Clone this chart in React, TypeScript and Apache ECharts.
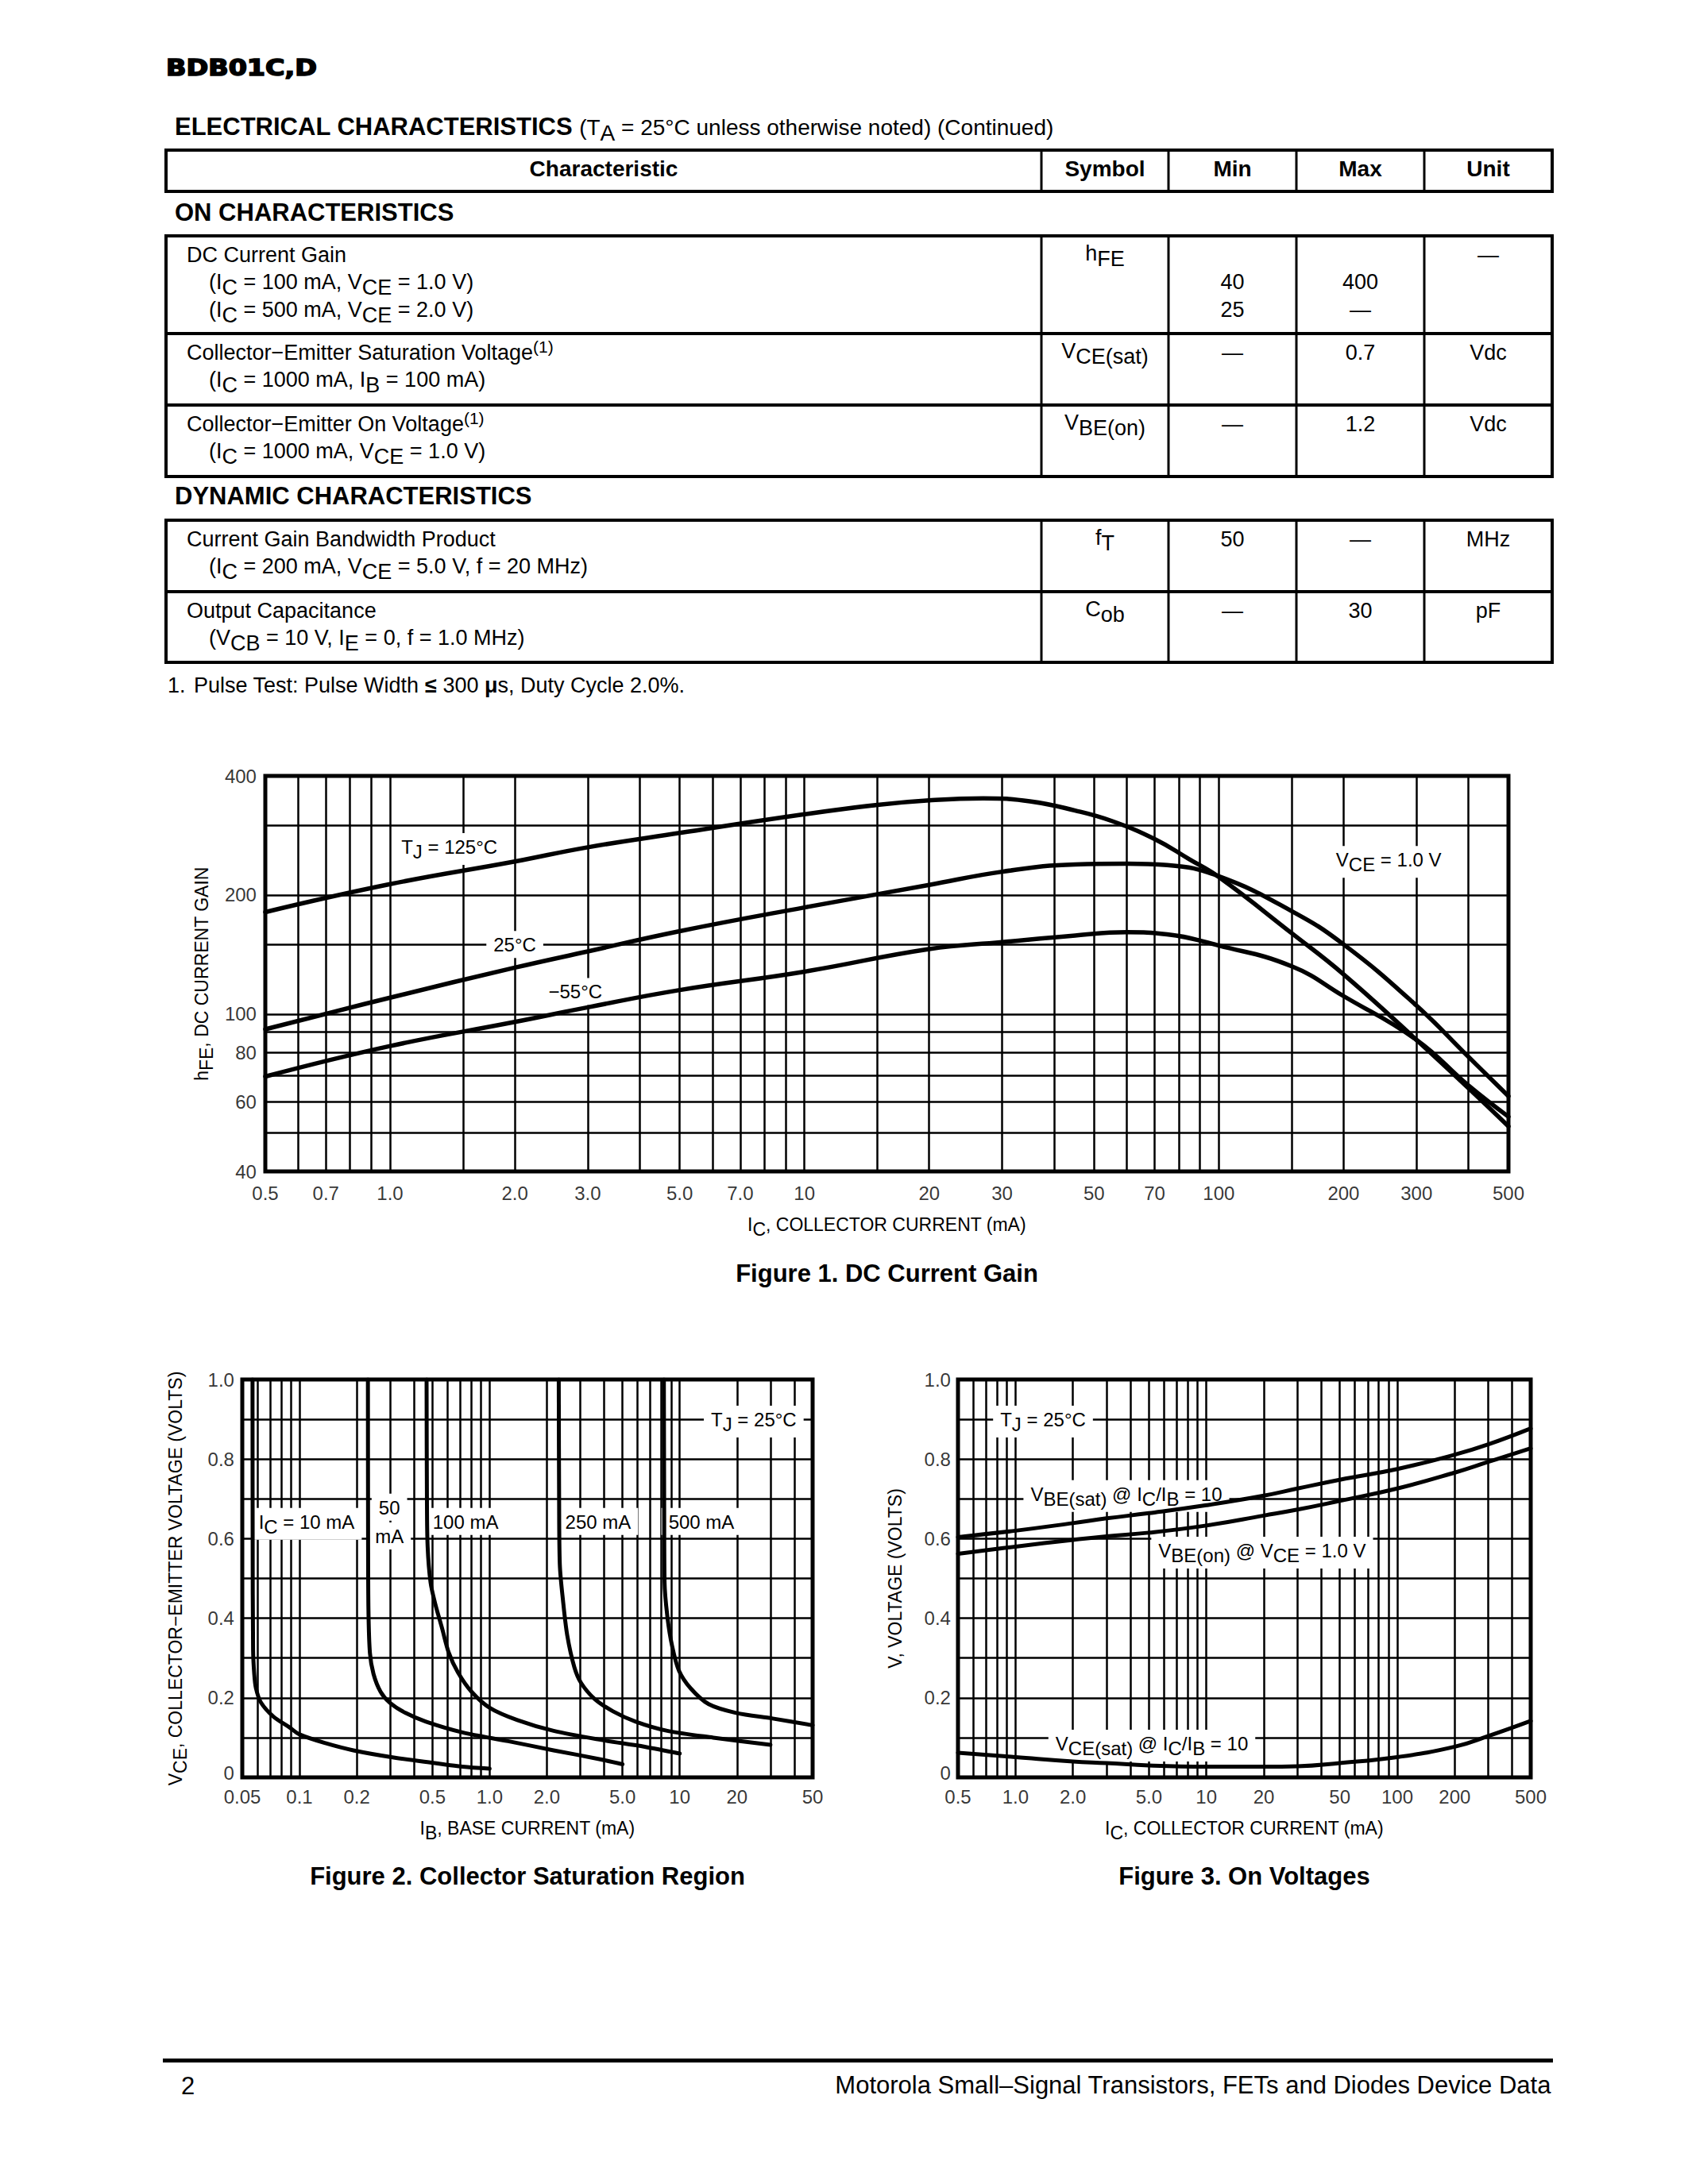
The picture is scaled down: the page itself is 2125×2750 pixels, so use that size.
import React, { useEffect, useRef } from "react";
import * as echarts from "echarts";

const PAGE_W = 2125;
const PAGE_H = 2750;
const SANS = "'Liberation Sans', Arial, Helvetica, sans-serif";
const HEAVY = "'DejaVu Sans', 'Liberation Sans', sans-serif";
const CHART_FONT = 24;

// ---------------- Table content ----------------
const pageTitle = "BDB01C,D";
const tableTitle = "ELECTRICAL CHARACTERISTICS";
const tableSubtitle = "(T_{A} = 25°C unless otherwise noted) (Continued)";
const tableHeader = ["Characteristic", "Symbol", "Min", "Max", "Unit"];
const sectionOn = "ON CHARACTERISTICS";
const sectionDyn = "DYNAMIC CHARACTERISTICS";
const onRows = [
  {
    lines: ["DC Current Gain", "(I_{C} = 100 mA, V_{CE} = 1.0 V)", "(I_{C} = 500 mA, V_{CE} = 2.0 V)"],
    symbol: "h_{FE}",
    min: ["", "40", "25"],
    max: ["", "400", "—"],
    unit: ["—"],
  },
  {
    lines: ["Collector−Emitter Saturation Voltage^{(1)}", "(I_{C} = 1000 mA, I_{B} = 100 mA)"],
    symbol: "V_{CE(sat)}",
    min: ["—"],
    max: ["0.7"],
    unit: ["Vdc"],
  },
  {
    lines: ["Collector−Emitter On Voltage^{(1)}", "(I_{C} = 1000 mA, V_{CE} = 1.0 V)"],
    symbol: "V_{BE(on)}",
    min: ["—"],
    max: ["1.2"],
    unit: ["Vdc"],
  },
];
const dynRows = [
  {
    lines: ["Current Gain Bandwidth Product", "(I_{C} = 200 mA, V_{CE} = 5.0 V, f = 20 MHz)"],
    symbol: "f_{T}",
    min: ["50"],
    max: ["—"],
    unit: ["MHz"],
  },
  {
    lines: ["Output Capacitance", "(V_{CB} = 10 V, I_{E} = 0, f = 1.0 MHz)"],
    symbol: "C_{ob}",
    min: ["—"],
    max: ["30"],
    unit: ["pF"],
  },
];
const footnoteNum = "1.";
const footnoteText = "Pulse Test: Pulse Width *{≤} 300 *{μ}s, Duty Cycle 2.0%.";
const footerPage = "2";
const footerText = "Motorola Small–Signal Transistors, FETs and Diodes Device Data";

// ---------------- Figure 1: DC Current Gain ----------------
const fig1XTicks = ["0.5", "0.7", "1.0", "2.0", "3.0", "5.0", "7.0", "10", "20", "30", "50", "70", "100", "200", "300", "500"];
const fig1YTicks = ["40", "60", "80", "100", "200", "400"];
const fig1XGrid = [0.6, 0.7, 0.8, 0.9, 1, 1.5, 2, 3, 4, 5, 6, 7, 8, 9, 10, 15, 20, 30, 40, 50, 60, 70, 80, 90, 100, 150, 200, 300, 400];
const fig1YGrid = [50, 60, 70, 80, 90, 100, 150, 200, 300];
const hfe125 = [
  [0.5, 181], [1, 213], [2, 243], [3, 264], [5, 287], [10, 320], [15, 338],
  [20, 347], [27, 351], [35, 345], [45, 327], [55, 308], [70, 277], [85, 246],
  [100, 222], [150, 160], [200, 126], [300, 86], [400, 65], [500, 52],
];
const hfe25 = [
  [0.5, 91.5], [1, 110], [2, 131], [3, 144], [5, 162], [10, 186], [20, 212],
  [30, 229], [45, 239], [60, 240], [75, 238], [100, 223], [150, 182], [200, 150],
  [300, 105], [400, 78], [500, 62],
];
const hfeM55 = [
  [0.5, 69.5], [1, 83], [2, 95.5], [3, 104], [5, 115], [10, 128], [20, 146],
  [30, 152], [45, 158], [60, 161], [75, 159], [100, 149], [150, 132], [200, 111],
  [300, 86], [400, 66], [500, 55],
];
const fig1Notes = [
  { x: 1.39, y: 265, text: "T_{J} = 125°C" },
  { x: 2.0, y: 150, text: "25°C" },
  { x: 2.8, y: 114, text: "−55°C" },
  { x: 257, y: 246, text: "V_{CE} = 1.0 V" },
];

// ---------------- Figure 2: Collector Saturation Region ----------------
const fig2XTicks = ["0.05", "0.1", "0.2", "0.5", "1.0", "2.0", "5.0", "10", "20", "50"];
const voltTicks = ["0", "0.2", "0.4", "0.6", "0.8", "1.0"];
const fig2XGrid = [0.06, 0.07, 0.08, 0.09, 0.1, 0.2, 0.3, 0.4, 0.5, 0.6, 0.7, 0.8, 0.9, 1, 2, 3, 4, 5, 6, 7, 8, 9, 10, 20, 30, 40];
const voltGrid = [0.1, 0.2, 0.3, 0.4, 0.5, 0.6, 0.7, 0.8, 0.9];
const sat10 = [
  [0.0566, 1.0], [0.0567, 0.6], [0.057, 0.32], [0.0578, 0.26], [0.059, 0.224], [0.0627, 0.188], [0.0728, 0.153],
  [0.0884, 0.126], [0.1, 0.108], [0.137, 0.086], [0.192, 0.068], [0.313, 0.05], [0.515, 0.036], [0.72, 0.027], [1.0, 0.022],
];
const sat50 = [
  [0.229, 1.0], [0.2295, 0.6], [0.2305, 0.42], [0.2346, 0.313], [0.245, 0.26], [0.267, 0.215], [0.298, 0.188],
  [0.361, 0.162], [0.463, 0.14], [0.72, 0.113], [1.25, 0.091], [2.17, 0.068], [3.77, 0.046], [5.0, 0.033],
];
const sat100 = [
  [0.466, 1.0], [0.468, 0.7], [0.472, 0.58], [0.489, 0.49], [0.517, 0.437], [0.562, 0.375], [0.61, 0.313],
  [0.681, 0.264], [0.804, 0.215], [1.0, 0.175], [1.4, 0.144], [2.17, 0.117], [3.77, 0.095], [6.55, 0.077], [10, 0.06],
];
const sat250 = [
  [2.31, 1.0], [2.32, 0.7], [2.34, 0.535], [2.43, 0.446], [2.56, 0.357], [2.79, 0.277], [3.03, 0.237],
  [3.57, 0.197], [4.46, 0.166], [5.87, 0.14], [8.6, 0.117], [15, 0.1], [30, 0.082],
];
const sat500 = [
  [8.25, 1.0], [8.28, 0.7], [8.32, 0.49], [8.63, 0.4], [9.12, 0.33], [9.91, 0.268], [11.4, 0.224],
  [14.2, 0.184], [19.8, 0.162], [30.8, 0.148], [50, 0.131],
];
const fig2Notes = [
  { x: 0.109, y: 0.643, text: "I_{C} = 10 mA" },
  { x: 0.297, y: 0.679, text: "50" },
  { x: 0.297, y: 0.607, text: "mA" },
  { x: 0.747, y: 0.643, text: "100 mA" },
  { x: 3.72, y: 0.643, text: "250 mA" },
  { x: 13.0, y: 0.643, text: "500 mA" },
  { x: 24.5, y: 0.9, text: "T_{J} = 25°C" },
];

// ---------------- Figure 3: On Voltages ----------------
const fig3XTicks = ["0.5", "1.0", "2.0", "5.0", "10", "20", "50", "100", "200", "500"];
const fig3XGrid = [0.6, 0.7, 0.8, 0.9, 1, 2, 3, 4, 5, 6, 7, 8, 9, 10, 20, 30, 40, 50, 60, 70, 80, 90, 100, 200, 300, 400];
const onIc = [0.5, 1, 2, 3, 5, 10, 20, 30, 50, 100, 200, 300, 500];
const vbeSat = [0.604, 0.62, 0.639, 0.651, 0.664, 0.684, 0.708, 0.726, 0.748, 0.775, 0.811, 0.837, 0.877];
const vbeOn = [0.562, 0.58, 0.597, 0.606, 0.615, 0.633, 0.658, 0.673, 0.695, 0.726, 0.766, 0.793, 0.827];
const vceSat = [0.062, 0.051, 0.04, 0.036, 0.03, 0.027, 0.027, 0.028, 0.036, 0.051, 0.077, 0.104, 0.142];
const fig3Notes = [
  { x: 1.394, y: 0.9, text: "T_{J} = 25°C" },
  { x: 3.81, y: 0.713, text: "V_{BE(sat)} @ I_{C}/I_{B} = 10" },
  { x: 19.6, y: 0.571, text: "V_{BE(on)} @ V_{CE} = 1.0 V" },
  { x: 5.18, y: 0.086, text: "V_{CE(sat)} @ I_{C}/I_{B} = 10" },
];

const figTitles = [
  { x: "I_{C}, COLLECTOR CURRENT (mA)", y: "h_{FE}, DC CURRENT GAIN", caption: "Figure 1. DC Current Gain" },
  { x: "I_{B}, BASE CURRENT (mA)", y: "V_{CE}, COLLECTOR−EMITTER VOLTAGE (VOLTS)", caption: "Figure 2. Collector Saturation Region" },
  { x: "I_{C}, COLLECTOR CURRENT (mA)", y: "V, VOLTAGE (VOLTS)", caption: "Figure 3. On Voltages" },
];

// ---------------- Layout ----------------
const GRIDS = [
  { left: 334, top: 977, width: 1565, height: 498 },
  { left: 305, top: 1737, width: 718, height: 501 },
  { left: 1206, top: 1737, width: 721, height: 501 },
];
const COLS = [209, 1311, 1471, 1632, 1793, 1954];

// ---------------- Text helpers ----------------
type Part = { t: string; k: string };
function parseMarkup(s: string): Part[] {
  const out: Part[] = [];
  const re = /([_^*])\{([^}]*)\}/g;
  let last = 0;
  let m: RegExpExecArray | null;
  while ((m = re.exec(s))) {
    if (m.index > last) out.push({ t: s.slice(last, m.index), k: "n" });
    out.push({ t: m[2], k: m[1] === "_" ? "sub" : m[1] === "^" ? "sup" : "b" });
    last = re.lastIndex;
  }
  if (last < s.length) out.push({ t: s.slice(last), k: "n" });
  return out;
}

let measureCtx: any = null;
function measure(t: string, size: number, bold: boolean, fam: string) {
  if (!measureCtx) measureCtx = document.createElement("canvas").getContext("2d");
  measureCtx.font = `${bold ? "bold " : ""}${size}px ${fam}`;
  return measureCtx.measureText(t).width;
}

function runs(str: string, x: number, baseline: number, size: number, o: any = {}) {
  const fam = o.fam || SANS;
  const parts = parseMarkup(str).map((p) => {
    const sz = p.k === "sup" ? Math.round(size * 0.78) : size;
    const b = !!o.bold || p.k === "b";
    const dy = p.k === "sub" ? size * 0.27 : p.k === "sup" ? -size * 0.33 : 0;
    return { ...p, sz, b, dy, w: measure(p.t, sz, b, fam) };
  });
  const width = parts.reduce((s, p) => s + p.w, 0);
  let cx = o.align === "center" ? x - width / 2 : o.align === "right" ? x - width : x;
  const els: any[] = [];
  parts.forEach((p) => {
    const lead = (p.t.match(/^\s*/) as any)[0];
    const body = p.t.slice(lead.length);
    const lw = lead ? measure(lead, p.sz, p.b, fam) : 0;
    if (body.length) {
      els.push({
        type: "text",
        x: cx + lw,
        y: baseline + p.dy - 0.347 * p.sz,
        silent: true,
        z: o.z ?? 5,
        style: {
          text: body,
          fontSize: p.sz,
          fontFamily: fam,
          fontWeight: p.b ? "bold" : "normal",
          fill: "#000",
          align: "left",
          verticalAlign: "middle",
        },
      });
    }
    cx += p.w;
  });
  return { els, width };
}

// ---------------- Option ----------------
function logAxis(gi: number, min: number, max: number) {
  return {
    type: "log",
    logBase: 10,
    min,
    max,
    gridIndex: gi,
    axisLine: { show: false },
    axisTick: { show: false },
    axisLabel: { show: false },
    splitLine: { show: false },
  };
}
function valAxis(gi: number) {
  return {
    type: "value",
    min: 0,
    max: 1,
    gridIndex: gi,
    axisLine: { show: false },
    axisTick: { show: false },
    axisLabel: { show: false },
    splitLine: { show: false },
  };
}
function gridLines(gi: number, xs: number[], ys: number[]) {
  return {
    type: "line",
    xAxisIndex: gi,
    yAxisIndex: gi,
    data: [],
    silent: true,
    z: 3,
    markLine: {
      silent: true,
      symbol: ["none", "none"],
      label: { show: false },
      emphasis: { disabled: true },
      lineStyle: { color: "#000", width: 2.5, type: "solid", opacity: 1 },
      data: [...xs.map((v) => ({ xAxis: v })), ...ys.map((v) => ({ yAxis: v }))],
    },
  };
}
function tickLabels(gi: number, pts: { x: number; y: number; t: string; dy?: number }[], pos: string, dist: number) {
  return {
    type: "scatter",
    xAxisIndex: gi,
    yAxisIndex: gi,
    symbolSize: 0.1,
    silent: true,
    clip: false,
    z: 6,
    itemStyle: { color: "rgba(0,0,0,0)" },
    emphasis: { disabled: true },
    data: pts.map((p) => ({ value: [p.x, p.y], label: { formatter: p.t, offset: [0, p.dy || 0] } })),
    label: { show: true, position: pos, distance: dist, fontSize: CHART_FONT, fontFamily: SANS, color: "#000" },
  };
}
function curve(gi: number, data: number[][], width: number, smooth: number) {
  return {
    type: "line",
    xAxisIndex: gi,
    yAxisIndex: gi,
    data,
    showSymbol: false,
    symbol: "none",
    smooth,
    silent: true,
    z: 20,
    lineStyle: { color: "#000", width, cap: "round", join: "round" },
    emphasis: { disabled: true },
  };
}

function buildOption() {
  const yPts = (x: number) => voltTicks.map((t) => ({ x, y: Number(t), t, dy: t === "0" ? -6 : 0 }));
  const series: any[] = [
    gridLines(0, fig1XGrid, fig1YGrid),
    gridLines(1, fig2XGrid, voltGrid),
    gridLines(2, fig3XGrid, voltGrid),
    tickLabels(0, fig1XTicks.map((t) => ({ x: Number(t), y: 40, t })), "bottom", 15),
    tickLabels(0, fig1YTicks.map((t) => ({ x: 0.5, y: Number(t), t })), "left", 11),
    tickLabels(1, fig2XTicks.map((t) => ({ x: Number(t), y: 0, t })), "bottom", 12),
    tickLabels(1, yPts(0.05), "left", 10),
    tickLabels(2, fig3XTicks.map((t) => ({ x: Number(t), y: 0, t })), "bottom", 12),
    tickLabels(2, yPts(0.5), "left", 9),
    curve(0, hfe125, 5.5, 0.45),
    curve(0, hfe25, 5.5, 0.45),
    curve(0, hfeM55, 5.5, 0.45),
    curve(1, sat10, 5, 0.3),
    curve(1, sat50, 5, 0.3),
    curve(1, sat100, 5, 0.3),
    curve(1, sat250, 5, 0.3),
    curve(1, sat500, 5, 0.3),
    curve(2, onIc.map((x, i) => [x, vbeSat[i]]), 5, 0.45),
    curve(2, onIc.map((x, i) => [x, vbeOn[i]]), 5, 0.45),
    curve(2, onIc.map((x, i) => [x, vceSat[i]]), 5, 0.45),
  ];
  return {
    animation: false,
    backgroundColor: "#fff",
    grid: GRIDS.map((g) => ({ ...g, show: true, borderColor: "#000", borderWidth: 5, backgroundColor: "rgba(0,0,0,0)" })),
    xAxis: [logAxis(0, 0.5, 500), logAxis(1, 0.05, 50), logAxis(2, 0.5, 500)],
    yAxis: [logAxis(0, 40, 400), valAxis(1), valAxis(2)],
    series,
  };
}

// ---------------- Graphics (table, titles, notes) ----------------
function buildGraphics(chart: any) {
  const els: any[] = [];
  const add = (r: any) => els.push(...r.els);
  const hline = (x1: number, x2: number, y: number, w: number) =>
    els.push({ type: "line", silent: true, z: 1, shape: { x1, y1: y, x2, y2: y }, style: { stroke: "#000", lineWidth: w } });
  const vline = (x: number, y1: number, y2: number, w: number) =>
    els.push({ type: "line", silent: true, z: 1, shape: { x1: x, y1, x2: x, y2 }, style: { stroke: "#000", lineWidth: w } });
  const TL = COLS[0];
  const TR = COLS[COLS.length - 1];
  const colCenter = COLS.slice(0, -1).map((c, i) => (c + COLS[i + 1]) / 2);
  const box = (top: number, bottom: number, dividers: number[]) => {
    hline(TL - 2, TR + 2, top, 4);
    hline(TL - 2, TR + 2, bottom, 4);
    dividers.forEach((d) => hline(TL, TR, d, 4));
    COLS.forEach((c, i) => vline(c, top, bottom, i === 0 || i === COLS.length - 1 ? 4 : 3));
  };

  // page title
  {
    const w = measure(pageTitle, 28, true, HEAVY);
    els.push({
      type: "text",
      x: 209,
      y: 95 - 0.347 * 28,
      scaleX: 190 / w,
      silent: true,
      z: 5,
      style: { text: pageTitle, fontSize: 28, fontFamily: HEAVY, fontWeight: "bold", fill: "#000", stroke: "#000", lineWidth: 1.6, align: "left", verticalAlign: "middle" },
    });
  }
  // table title
  const t1 = runs(tableTitle, 220, 170, 31, { bold: true });
  add(t1);
  add(runs(tableSubtitle, 220 + t1.width + 8, 170, 28));

  // header
  box(189, 241, []);
  tableHeader.forEach((h, i) => add(runs(h, colCenter[i], 222, 28, { bold: true, align: "center" })));

  // sections
  add(runs(sectionOn, 220, 278, 31, { bold: true }));
  add(runs(sectionDyn, 220, 635, 31, { bold: true }));

  const placeRows = (rows: any[], tops: number[]) => {
    rows.forEach((row, r) => {
      const top = tops[r];
      const b0 = top + 33;
      row.lines.forEach((ln: string, j: number) => add(runs(ln, j === 0 ? 235 : 263, b0 + j * 34.5, 27)));
      add(runs(row.symbol, colCenter[1], top + 31, 27, { align: "center" }));
      [row.min, row.max, row.unit].forEach((vals: string[], k: number) =>
        vals.forEach((v, j) => {
          if (v) add(runs(v, colCenter[2 + k], b0 + j * 34.5, 27, { align: "center" }));
        })
      );
    });
  };
  box(297, 600, [420, 510]);
  placeRows(onRows, [297, 420, 510]);
  box(655, 834, [745]);
  placeRows(dynRows, [655, 745]);

  add(runs(footnoteNum, 211, 872, 27));
  add(runs(footnoteText, 244, 872, 27));

  // footer
  hline(205, 1955, 2594.5, 5);
  add(runs(footerPage, 228, 2637, 31));
  add(runs(footerText, 1953, 2636, 31, { align: "right" }));

  // figure titles
  const capBase = [1614, 2373, 2373];
  const xTitleBase = [1550, 2310, 2310];
  const yTitleX = [254, 221, 1127];
  GRIDS.forEach((g, i) => {
    const cx = g.left + g.width / 2;
    const cy = g.top + g.height / 2;
    add(runs(figTitles[i].x, cx, xTitleBase[i], 23, { align: "center" }));
    add(runs(figTitles[i].caption, cx, capBase[i], 31, { bold: true, align: "center" }));
    const yr = runs(figTitles[i].y, 0, 0.358 * 23, 23, { align: "center" });
    els.push({ type: "group", x: yTitleX[i], y: cy, rotation: Math.PI / 2, children: yr.els, silent: true });
  });

  // annotations
  const notes = [fig1Notes, fig2Notes, fig3Notes];
  notes.forEach((list, gi) => {
    list.forEach((n) => {
      const p = chart.convertToPixel({ gridIndex: gi }, [n.x, n.y]);
      if (!p) return;
      const size = CHART_FONT;
      const r = runs(n.text, p[0], p[1] + 0.358 * size, size, { align: "center", z: 11 });
      const hasSub = n.text.indexOf("_{") >= 0;
      els.push({
        type: "rect",
        silent: true,
        z: 10,
        shape: { x: p[0] - r.width / 2 - 9, y: p[1] - size * 0.5 - 5, width: r.width + 18, height: size + 10 + (hasSub ? 6 : 0) },
        style: { fill: "#fff" },
      });
      els.push(...r.els);
    });
  });
  return els;
}

export default function App() {
  const ref = useRef<HTMLDivElement>(null);
  useEffect(() => {
    document.body.style.margin = "0";
    const chart = echarts.init(ref.current as HTMLDivElement, null, { renderer: "svg", width: PAGE_W, height: PAGE_H });
    chart.setOption(buildOption() as any);
    chart.setOption({ graphic: { elements: buildGraphics(chart) } } as any);
    return () => chart.dispose();
  }, []);
  return (
    <div
      ref={ref}
      style={{ width: PAGE_W, height: PAGE_H, position: "absolute", left: 0, top: 0, background: "#fff" }}
    />
  );
}
